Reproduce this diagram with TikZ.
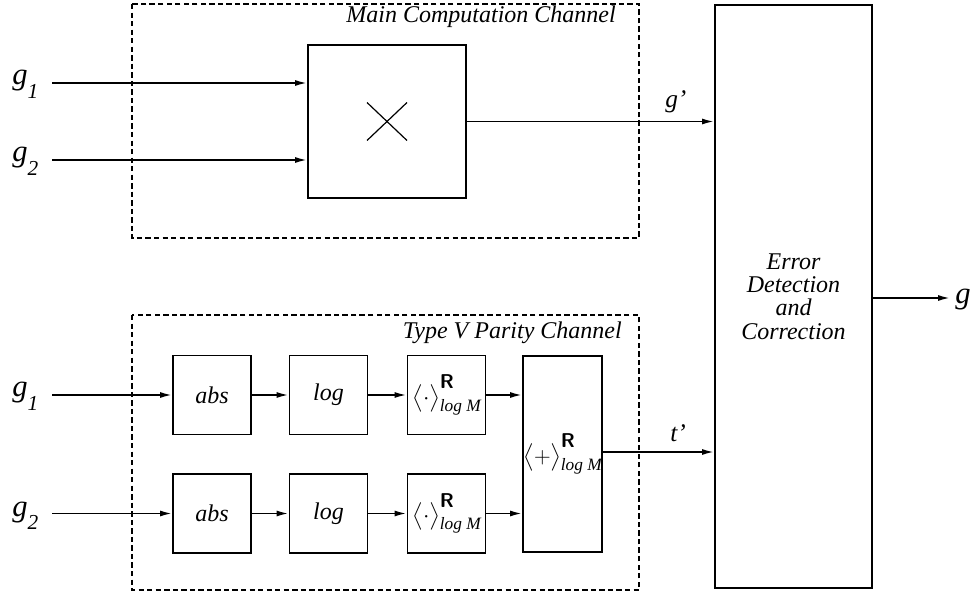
\documentclass[tikz,border=0pt]{standalone}
\usepackage{amsmath}
\usepackage{fontspec}
\setmainfont{Liberation Serif}
\usetikzlibrary{arrows.meta}
\tikzset{
  blk/.style={draw, line width=1.3pt, inner sep=0pt, minimum width=#1, font=\itshape\fontsize{18}{17.6}\selectfont},
  blk/.default=58.5pt,
  dashbox/.style={draw, line width=1.2pt, dash pattern=on 4pt off 2.4pt},
  arr/.style={line width=1.3pt, -{Latex[length=9pt,width=4.5pt]}},
  ttl/.style={font=\itshape\fontsize{18}{20}\selectfont, inner sep=0pt, anchor=base east},
  lbl/.style={font=\itshape\fontsize{23}{24}\selectfont, inner sep=0pt, anchor=base west},
  sig/.style={font=\itshape\fontsize{19}{20}\selectfont, inner sep=0pt, anchor=base west},
}
\newcommand{\gsub}[1]{\textit{g}\raisebox{-10pt}{\fontsize{16}{16}\selectfont\textit{#1}}}
\newcommand{\brk}[1]{$\bigl\langle #1\bigr\rangle$\kern-0.5pt%
  \raisebox{-5.5pt}{\rlap{\raisebox{17pt}{\fontsize{15}{15}\selectfont\sffamily\bfseries\upshape R}}%
  \fontsize{13}{13}\selectfont\itshape log M}}
\begin{document}
\begin{tikzpicture}[x=0.75pt,y=-0.75pt]
\useasboundingbox (0,0) rectangle (974,598);
% dashed channel frames
\draw[dashbox] (132,4) rectangle (639,238);
\draw[dashbox] (132,315) rectangle (639,590);
\node[ttl] (t1) at (616,23) {Main Computation Channel};
\node[ttl] (t2) at (622,339) {Type V Parity Channel};
% main channel
\node[blk=118.5pt, minimum height=114.75pt] (mul) at (387,121.5) {};
\draw[line width=0.9pt] ([shift={(-20,-19)}]mul.center) -- ([shift={(20,19)}]mul.center);
\draw[line width=0.9pt] ([shift={(-20,19)}]mul.center) -- ([shift={(20,-19)}]mul.center);
% error detection
\node[blk=117.75pt, minimum height=437.25pt, align=center] (edc) at (793.5,296.5) {Error\\Detection\\and\\Correction};
% parity channel blocks
\node[blk, minimum height=59.25pt] (abs1) at (212,395) {abs};
\node[blk, minimum height=59.25pt] (log1) at (328.5,395) {log};
\node[blk, minimum height=59.25pt] (br1) at (446.5,395) {\brk{\cdot}};
\node[blk, minimum height=59.25pt] (abs2) at (212,513.5) {abs};
\node[blk, minimum height=59.25pt] (log2) at (328.5,513.5) {log};
\node[blk, minimum height=59.25pt] (br2) at (446.5,513.5) {\brk{\cdot}};
\node[blk=59.25pt, minimum height=147pt] (plus) at (562.5,454) {\brk{+}};
% inputs
\coordinate (a1) at (52,83);
\coordinate (a2) at (52,160);
\coordinate (b1) at (52,395);
\coordinate (b2) at (52,513.5);
\node[lbl] (la1) at (12,85) {\gsub{1}};
\node[lbl] (la2) at (12,162) {\gsub{2}};
\node[lbl] (lb1) at (12,397) {\gsub{1}};
\node[lbl] (lb2) at (12,516) {\gsub{2}};
\draw[arr] (a1) -- (a1 -| mul.west);
\draw[arr] (a2) -- (a2 -| mul.west);
\draw[arr] (b1) -- (abs1.west);
\draw[arr] (b2) -- (abs2.west);
\draw[arr] (abs1) -- (log1);
\draw[arr] (log1) -- (br1);
\draw[arr] (br1.east) -- (br1.east -| plus.west);
\draw[arr] (abs2) -- (log2);
\draw[arr] (log2) -- (br2);
\draw[arr] (br2.east) -- (br2.east -| plus.west);
% outputs
\draw[arr] (mul.east) -- (mul.east -| edc.west);
\node[sig] (gp) at (665,108) {g’};
\coordinate (pout) at (602,452);
\draw[arr] (pout) -- (pout -| edc.west);
\node[sig] (tp) at (670,441) {t’};
\coordinate (eout) at (950,298);
\draw[arr] (edc.east |- eout) -- (eout);
\node[lbl] (gout) at (955,304) {g};
\end{tikzpicture}
\end{document}
